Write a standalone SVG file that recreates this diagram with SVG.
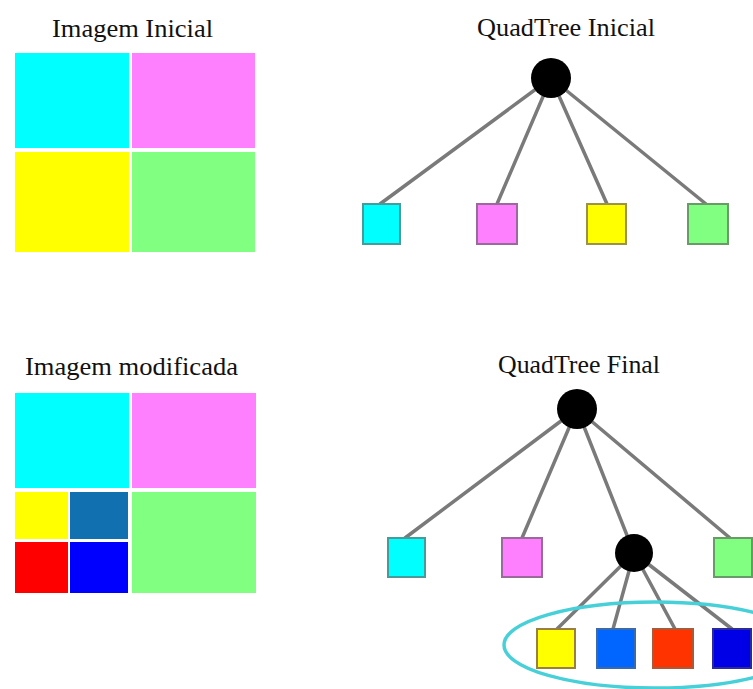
<svg xmlns="http://www.w3.org/2000/svg" width="753" height="689" viewBox="0 0 753 689">
  <style>
    .title { font-family: "Liberation Serif", "Times New Roman", serif; font-size: 25px; fill: #111; }
    .edge { stroke: #7a7a7a; stroke-width: 3.5; stroke-linecap: round; }
    .leaf { stroke-width: 2; }
    .node { fill: #000; }
  </style>
  <rect width="753" height="689" fill="#fff"/>

  <!-- Titles -->
  <text class="title" x="52" y="37" textLength="161" lengthAdjust="spacingAndGlyphs">Imagem Inicial</text>
  <text class="title" x="477" y="36" textLength="178" lengthAdjust="spacingAndGlyphs">QuadTree Inicial</text>
  <text class="title" x="25" y="375" textLength="213" lengthAdjust="spacingAndGlyphs">Imagem modificada</text>
  <text class="title" x="498" y="373" textLength="162" lengthAdjust="spacingAndGlyphs">QuadTree Final</text>

  <!-- Initial image: four quadrants -->
  <g id="image-initial">
    <rect x="15" y="53" width="114" height="95" fill="#00ffff"/>
    <rect x="132" y="53" width="123" height="95" fill="#ff80ff"/>
    <rect x="15" y="152" width="114" height="100" fill="#ffff00"/>
    <rect x="132" y="152" width="123" height="100" fill="#80ff80"/>
  </g>

  <!-- Modified image: bottom-left quadrant subdivided -->
  <g id="image-modified">
    <rect x="15" y="393" width="114" height="95" fill="#00ffff"/>
    <rect x="132" y="393" width="124" height="95" fill="#ff80ff"/>
    <rect x="132" y="492" width="124" height="101" fill="#80ff80"/>
    <rect x="15" y="492" width="53" height="47" fill="#ffff00"/>
    <rect x="70" y="492" width="58" height="47" fill="#1070b0"/>
    <rect x="15" y="542" width="53" height="51" fill="#ff0000"/>
    <rect x="70" y="542" width="58" height="51" fill="#0000ff"/>
  </g>

  <!-- Connectors -->
  <g id="connectors">
    <line class="edge" x1="551" y1="78" x2="380" y2="204"/>
    <line class="edge" x1="551" y1="78" x2="497" y2="204"/>
    <line class="edge" x1="551" y1="78" x2="607" y2="204"/>
    <line class="edge" x1="551" y1="78" x2="706" y2="204"/>

    <line class="edge" x1="577" y1="409" x2="405" y2="538"/>
    <line class="edge" x1="577" y1="409" x2="522" y2="538"/>
    <line class="edge" x1="577" y1="409" x2="634" y2="553"/>
    <line class="edge" x1="577" y1="409" x2="730" y2="538"/>

    <line class="edge" x1="634" y1="553" x2="557" y2="629"/>
    <line class="edge" x1="634" y1="553" x2="613" y2="629"/>
    <line class="edge" x1="634" y1="553" x2="675" y2="629"/>
    <line class="edge" x1="634" y1="553" x2="732" y2="629"/>
  </g>

  <!-- Initial quadtree -->
  <g id="qt1-root"><circle class="node" cx="551" cy="78" r="20"/></g>
  <g id="qt1-leaf-cyan"><rect class="leaf" x="363" y="204" width="37" height="40" fill="#00ffff" stroke="#4a9a9a"/></g>
  <g id="qt1-leaf-magenta"><rect class="leaf" x="477" y="204" width="40" height="40" fill="#ff80ff" stroke="#9a6a9a"/></g>
  <g id="qt1-leaf-yellow"><rect class="leaf" x="587" y="204" width="39" height="40" fill="#ffff00" stroke="#9a9050"/></g>
  <g id="qt1-leaf-green"><rect class="leaf" x="688" y="204" width="40" height="40" fill="#80ff80" stroke="#6a9a6a"/></g>

  <!-- Final quadtree -->
  <g id="qt2-root"><circle class="node" cx="577" cy="409" r="20"/></g>
  <g id="qt2-leaf-cyan"><rect class="leaf" x="388" y="538" width="37" height="39" fill="#00ffff" stroke="#4a9a9a"/></g>
  <g id="qt2-leaf-magenta"><rect class="leaf" x="502" y="538" width="40" height="39" fill="#ff80ff" stroke="#9a6a9a"/></g>
  <g id="qt2-sub"><circle class="node" cx="634" cy="553" r="19"/></g>
  <g id="qt2-leaf-green"><rect class="leaf" x="714" y="538" width="38" height="39" fill="#80ff80" stroke="#6a9a6a"/></g>

  <g id="qt2-child-yellow"><rect class="leaf" x="537" y="629" width="38" height="39" fill="#ffff00" stroke="#9a8040"/></g>
  <g id="qt2-child-blue"><rect class="leaf" x="597" y="629" width="38" height="39" fill="#0066ff" stroke="#3a6aaa"/></g>
  <g id="qt2-child-red"><rect class="leaf" x="653" y="629" width="40" height="39" fill="#ff3300" stroke="#aa5a3a"/></g>
  <g id="qt2-child-darkblue"><rect class="leaf" x="713" y="629" width="38" height="39" fill="#0000e6" stroke="#2a2a9a"/></g>

  <!-- Highlight around the new children -->
  <g id="qt2-highlight">
    <ellipse cx="655" cy="645" rx="151" ry="43" fill="none" stroke="#48d0d8" stroke-width="3.5"/>
  </g>
</svg>
